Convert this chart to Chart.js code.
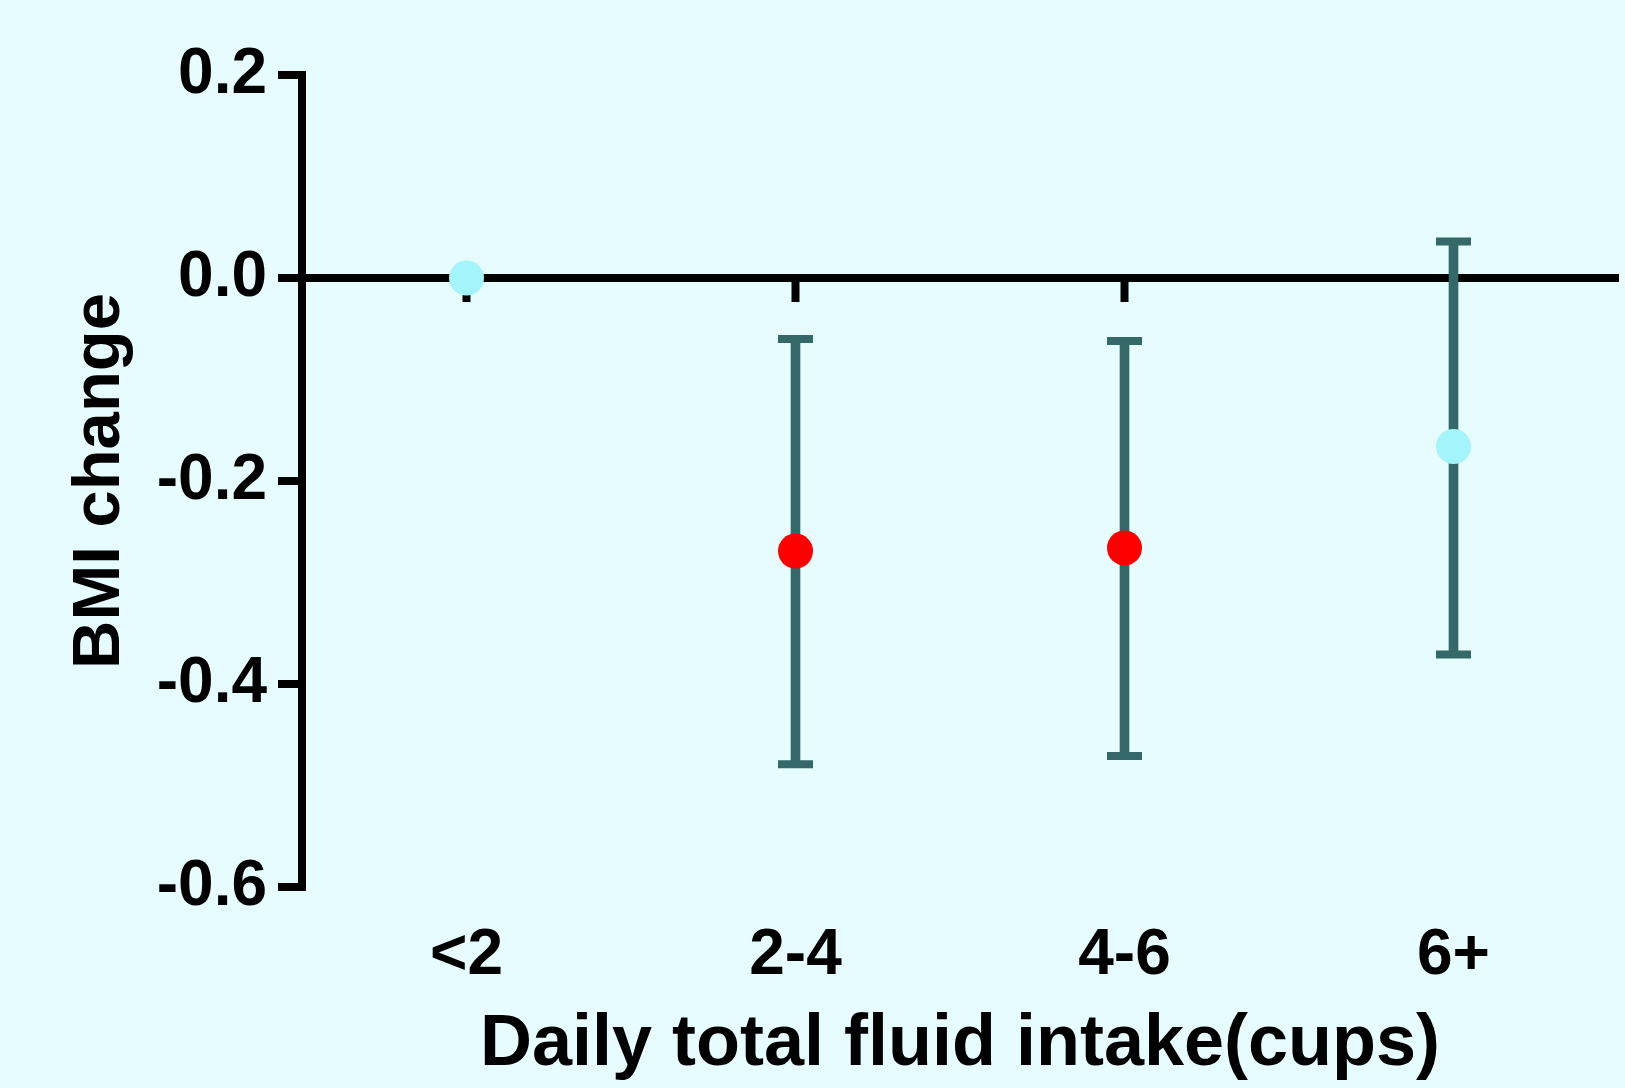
<!DOCTYPE html>
<html>
<head>
<meta charset="utf-8">
<script src="https://cdn.jsdelivr.net/npm/chart.js@4"></script>
<style>
  html, body { margin: 0; padding: 0; background: #e6fcfe; overflow: hidden; }
  #box { width: 1625px; height: 1088px; position: relative; }
</style>
</head>
<body>
<div id="box"><canvas id="grafico"></canvas></div>
<script>
// categorie e valori
const categorie = ['<2', '2-4', '4-6', '6+'];
const mediaBMI = [0, -0.269, -0.266, -0.166];
const limiteAlto = [null, -0.060, -0.062, 0.036];
const limiteBasso = [null, -0.479, -0.471, -0.371];
const coloriPunti = ['#a3f4fb', '#ff0000', '#ff0000', '#a3f4fb'];
const tickY = [0.2, 0.0, -0.2, -0.4, -0.6];

const coloreBarre = '#356969';
const font = "'Liberation Sans', Arial, Helvetica, sans-serif";

// barre di errore come barre fluttuanti
const intervalli = limiteAlto.map((h, i) => h === null ? null : [limiteBasso[i], h]);

const ctx = document.getElementById('grafico').getContext('2d');
new Chart(ctx, {
    type: 'bar',
    data: {
        labels: categorie,
        datasets: [
            {
                type: 'line',
                label: 'media',
                data: mediaBMI,
                showLine: false,
                pointRadius: 17.5,
                pointHoverRadius: 17.5,
                pointBackgroundColor: coloriPunti,
                pointBorderWidth: 0,
                order: 0
            },
            {
                type: 'line',
                label: 'alto',
                data: limiteAlto,
                showLine: false,
                pointStyle: 'line',
                pointRadius: 17.5,
                pointBorderWidth: 8,
                pointBorderColor: coloreBarre,
                order: 1
            },
            {
                type: 'line',
                label: 'basso',
                data: limiteBasso,
                showLine: false,
                pointStyle: 'line',
                pointRadius: 17.5,
                pointBorderWidth: 8,
                pointBorderColor: coloreBarre,
                order: 1
            },
            {
                type: 'bar',
                label: 'intervallo',
                data: intervalli,
                backgroundColor: coloreBarre,
                barThickness: 9,
                grouped: false,
                order: 2
            }
        ]
    },
    options: {
        responsive: true,
        maintainAspectRatio: false,
        animation: false,
        layout: {
            autoPadding: false,
            padding: { top: 75, right: 7, bottom: 0, left: 0 }
        },
        plugins: {
            legend: { display: false },
            tooltip: { enabled: false }
        },
        scales: {
            x: {
                type: 'category',
                position: 'bottom',
                offset: true,
                grid: { display: false, drawTicks: false },
                border: { display: false },
                ticks: {
                    color: '#000',
                    padding: 31,
                    font: { family: font, size: 64, weight: 'bold' }
                },
                title: {
                    display: true,
                    text: 'Daily total fluid intake(cups)',
                    color: '#000',
                    padding: { top: 0, bottom: 0 },
                    font: { family: font, size: 72, weight: 'bold' }
                },
                afterFit: (scala) => {
                    scala.height = 201;
                    scala.paddingLeft = 0;
                    scala.paddingRight = 0;
                }
            },
            // asse dello zero con le tacche delle categorie
            xz: {
                type: 'category',
                position: { y: 0 },
                offset: true,
                grid: {
                    offset: false,
                    drawOnChartArea: false,
                    drawTicks: true,
                    tickLength: 20,
                    tickWidth: 8,
                    tickColor: '#000'
                },
                border: { display: true, color: '#000', width: 8 },
                ticks: { display: false },
                afterFit: (scala) => {
                    scala.paddingLeft = 0;
                    scala.paddingRight = 0;
                }
            },
            y: {
                min: -0.6,
                max: 0.2,
                position: 'left',
                grid: {
                    drawOnChartArea: false,
                    color: '#000',
                    lineWidth: 8,
                    tickLength: 24
                },
                border: { display: true, color: '#000', width: 8 },
                afterBuildTicks: (scala) => {
                    scala.ticks = tickY.map(v => ({ value: v }));
                },
                ticks: {
                    color: '#000',
                    padding: 11,
                    font: { family: font, size: 64, weight: 'bold' },
                    callback: (v) => Math.abs(v) < 1e-9 ? '0.0' : Number(v).toFixed(1)
                },
                title: {
                    display: true,
                    text: 'BMI change',
                    color: '#000',
                    padding: { top: 60, bottom: 0 },
                    font: { family: font, size: 67, weight: 'bold' }
                },
                afterFit: (scala) => { scala.width = 302; }
            }
        }
    }
});
</script>
</body>
</html>
